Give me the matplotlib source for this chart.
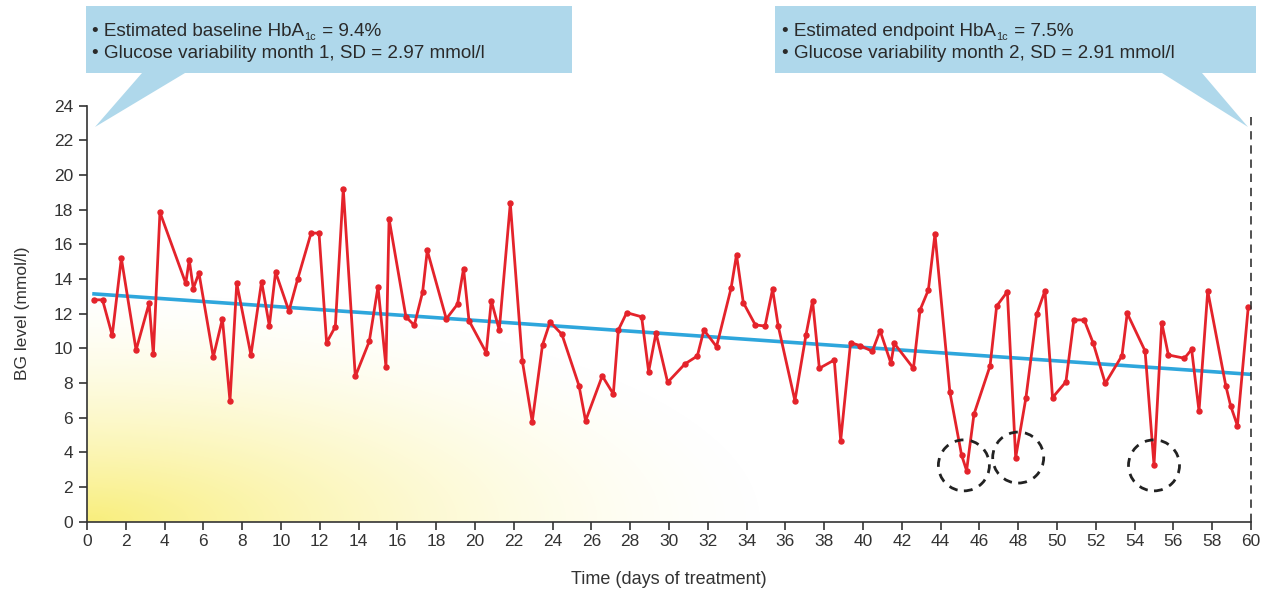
import numpy as np
import matplotlib
matplotlib.use("Agg")
import matplotlib.pyplot as plt
from matplotlib.patches import Polygon, Ellipse

plt.rcParams['font.family'] = ['Liberation Sans', 'DejaVu Sans']

# Self-monitored blood glucose readings over 60 days of treatment
days = [0.36, 0.80, 1.30, 1.77, 2.53, 3.20, 3.42, 3.76, 5.09, 5.27, 5.48, 5.77,
        6.51, 6.98, 7.37, 7.72, 8.45, 9.00, 9.40, 9.72, 10.41, 10.86, 11.55, 11.96,
        12.35, 12.80, 13.21, 13.83, 14.55, 15.00, 15.41, 15.57, 16.44, 16.87, 17.30,
        17.54, 18.52, 19.10, 19.41, 19.69, 20.58, 20.84, 21.25, 21.82, 22.44, 22.95,
        23.48, 23.87, 24.48, 25.36, 25.70, 26.56, 27.13, 27.39, 27.82, 28.59, 28.95,
        29.33, 29.93, 30.82, 31.46, 31.80, 32.45, 33.20, 33.48, 33.83, 34.45, 34.95,
        35.34, 35.63, 36.49, 37.06, 37.40, 37.75, 38.52, 38.85, 39.36, 39.85, 40.48,
        40.88, 41.44, 41.61, 42.60, 42.94, 43.37, 43.71, 44.48, 45.08, 45.34, 45.72,
        46.55, 46.89, 47.44, 47.87, 48.40, 48.95, 49.38, 49.77, 50.46, 50.87, 51.40,
        51.87, 52.49, 53.35, 53.62, 54.54, 55.00, 55.40, 55.74, 56.57, 56.94, 57.32,
        57.77, 58.70, 58.95, 59.30, 59.86]
bg = [12.8, 12.8, 10.75, 15.2, 9.9, 12.6, 9.65, 17.85, 13.75, 15.1, 13.45, 14.35,
      9.5, 11.7, 6.97, 13.75, 9.62, 13.85, 11.3, 14.4, 12.15, 14.0, 16.65, 16.65,
      10.33, 11.25, 19.2, 8.38, 10.4, 13.55, 8.95, 17.47, 11.82, 11.33, 13.25,
      15.65, 11.7, 12.55, 14.6, 11.6, 9.75, 12.75, 11.06, 18.37, 9.27, 5.77,
      10.2, 11.52, 10.81, 7.85, 5.82, 8.41, 7.37, 11.06, 12.06, 11.82, 8.66,
      10.89, 8.04, 9.1, 9.56, 11.06, 10.1, 13.47, 15.4, 12.64, 11.35, 11.29,
      13.41, 11.29, 6.98, 10.77, 12.74, 8.85, 9.33, 4.68, 10.33, 10.16, 9.83,
      11.02, 9.14, 10.29, 8.85, 12.21, 13.37, 16.6, 7.46, 3.85, 2.95, 6.2,
      8.99, 12.44, 13.27, 3.7, 7.16, 11.96, 13.33, 7.16, 8.07, 11.64, 11.64,
      10.29, 7.98, 9.58, 12.02, 9.85, 3.27, 11.48, 9.62, 9.43, 9.94, 6.38,
      13.31, 7.85, 6.69, 5.54, 12.41]

# Linear trend of the readings
trend_days = [0.27, 60]
trend_bg = [13.15, 8.5]

# Hypoglycaemic episodes highlighted with dashed rings
hypo_days = [45.2, 48.0, 55.0]
hypo_bg = [3.25, 3.7, 3.25]

x_ticks = list(range(0, 61, 2))
y_ticks = list(range(0, 25, 2))

# Callout lines: (text before subscript, subscript, text after)
callout_left = [("\u2022 Estimated baseline HbA", "1c", " = 9.4%"),
                ("\u2022 Glucose variability month 1, SD = 2.97 mmol/l", "", "")]
callout_right = [("\u2022 Estimated endpoint HbA", "1c", " = 7.5%"),
                 ("\u2022 Glucose variability month 2, SD = 2.91 mmol/l", "", "")]

W, H = 1277, 595
fig = plt.figure(figsize=(W / 100, H / 100), dpi=100)
ax = fig.add_axes([87 / W, 1 - 521.7 / H, (1251 - 87) / W, (521.7 - 105.7) / H])


def px(x, y):
    return (x / W, 1 - y / H)


# Soft yellow glow in the lower-left corner of the plotting area
gx, gy = np.meshgrid(np.linspace(0, 1, 400), np.linspace(0, 1, 300))
r = np.sqrt(gx ** 2 + (gy * 1.05) ** 2)
alpha = 0.8 * np.clip(1 - r / 0.6, 0, 1) ** 1.6
img = np.zeros((300, 400, 4))
img[..., 0] = 0.97
img[..., 1] = 0.92
img[..., 2] = 0.36
img[..., 3] = alpha
ax.imshow(img, origin='lower', extent=[0, 1, 0, 1], transform=ax.transAxes,
          aspect='auto', zorder=0, interpolation='bilinear')

ax.plot(trend_days, trend_bg, color='#2ea6dc', lw=2.6, zorder=2,
        solid_capstyle='butt')
ax.plot(days, bg, color='#e4232b', lw=2.0, marker='o', ms=3.6, zorder=3)

ax.set_xlim(0, 60)
ax.set_ylim(0, 24)

# Rings of fixed pixel radius around the hypoglycaemic readings
ring_r = 25.5
dx = ring_r * 2 * 60 / (1251 - 87)
dy = ring_r * 2 * 24 / (521.7 - 105.7)
for hd, hb in zip(hypo_days, hypo_bg):
    ax.add_patch(Ellipse((hd, hb), dx, dy, fill=False, ec='#222222', lw=2.0,
                         ls=(0, (3.2, 2.6)), zorder=4, clip_on=False))

ax.plot([60, 60], [0, 23.65], color='#333333', lw=1.2, ls=(0, (5, 3.5)),
        clip_on=False, zorder=4)

for s in ['top', 'right']:
    ax.spines[s].set_visible(False)
for s in ['left', 'bottom']:
    ax.spines[s].set_color('#333333')
    ax.spines[s].set_linewidth(1.2)
ax.set_xticks(x_ticks)
ax.set_yticks(y_ticks)
ax.tick_params(axis='both', direction='out', colors='#333333', length=6,
               width=1.2, labelsize=12.5, labelcolor='#333333')
ax.tick_params(axis='x', pad=3)
ax.tick_params(axis='y', pad=4)
ax.set_xlabel("Time (days of treatment)", fontsize=13, color='#333333',
              labelpad=16)
ax.set_ylabel("BG level (mmol/l)", fontsize=12.5, color='#333333', labelpad=17)

# Callout boxes with pointers
box_color = '#afd8eb'
left_shape = [px(86, 6), px(572, 6), px(572, 73), px(185, 73), px(95, 127),
              px(142, 73), px(86, 73)]
right_shape = [px(775, 6), px(1256, 6), px(1256, 73), px(1202, 73),
               px(1248, 127), px(1162, 73), px(775, 73)]
for shape in (left_shape, right_shape):
    fig.patches.append(Polygon(shape, closed=True, fc=box_color, ec='none',
                               transform=fig.transFigure, zorder=1))

renderer = fig.canvas.get_renderer()
main_size = 13.6
sub_size = 7.8
for lines, x0 in ((callout_left, 92), (callout_right, 782)):
    for i, (pre, sub, post) in enumerate(lines):
        y_base = 36 + 22 * i
        t = fig.text(*px(x0, y_base), pre, fontsize=main_size, color='#2a2a2a',
                     va='baseline', ha='left')
        if sub:
            x_end = t.get_window_extent(renderer).x1
            xs = x_end + 0.5
            s = fig.text(xs / W, 1 - (y_base + 4) / H, sub, fontsize=sub_size,
                         color='#2a2a2a', va='baseline', ha='left')
            x_end2 = s.get_window_extent(renderer).x1
            fig.text((x_end2 + 0.5) / W, 1 - y_base / H, post,
                     fontsize=main_size, color='#2a2a2a', va='baseline',
                     ha='left')

fig.savefig("out.png", dpi=100)
